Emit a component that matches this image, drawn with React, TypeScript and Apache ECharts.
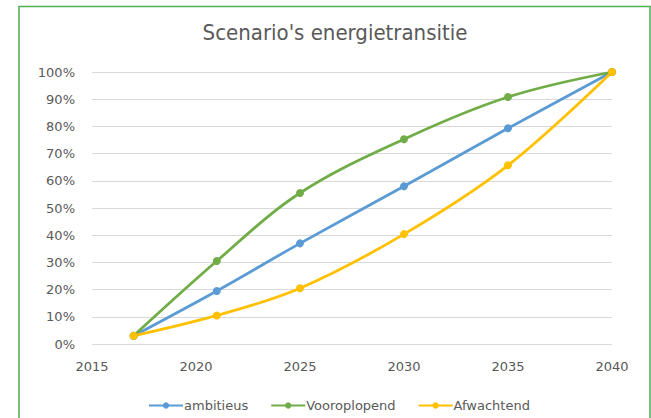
import React, { useEffect, useRef } from "react";
import * as echarts from "echarts";

const years = [2017, 2021, 2025, 2030, 2035, 2040];
const ambitieus = [3, 19.5, 37, 58, 79.3, 100];
const vooroplopend = [3, 30.5, 55.5, 75.3, 90.8, 100];
const afwachtend = [3, 10.5, 20.5, 40.4, 65.7, 100];
const seriesNames = ["ambitieus", "Vooroplopend", "Afwachtend"];
const colors = ["#5B9BD5", "#70AD47", "#FFC000"];

export default function App() {
  const ref = useRef<HTMLDivElement>(null);
  useEffect(() => {
    const chart = echarts.init(ref.current!, undefined, { renderer: "svg" });
    const mk = (name: string, vals: number[], color: string) => ({
      name,
      type: "line",
      smooth: 0.35,
      data: years.map((y, i) => [y, vals[i]]),
      symbol: "circle",
      symbolSize: 8,
      lineStyle: { width: 2.8, color },
      itemStyle: { color },
    });
    const labelFont = { color: "#595959", fontSize: 13, fontFamily: "DejaVu Sans" };
    chart.setOption({
      animation: false,
      backgroundColor: "#fff",
      title: {
        text: "Scenario's energietransitie",
        left: 330,
        textAlign: "center",
        top: 16,
        textStyle: { fontFamily: "DejaVu Sans Condensed", fontWeight: "normal", fontSize: 22, color: "#595959" },
      },
      graphic: [
        {
          type: "rect",
          shape: { x: 19, y: 6.5, width: 631, height: 430 },
          style: { fill: "none", stroke: "#4CAF50", lineWidth: 1.5 },
        },
      ],
      grid: { left: 92, right: 39, top: 72, bottom: 74 },
      xAxis: {
        type: "value",
        min: 2015,
        max: 2040,
        interval: 5,
        axisLine: { show: false },
        axisTick: { show: false },
        splitLine: { show: false },
        axisLabel: { ...labelFont, margin: 16, formatter: (v: number) => String(v) },
      },
      yAxis: {
        type: "value",
        min: 0,
        max: 100,
        interval: 10,
        axisLine: { show: false },
        axisTick: { show: false },
        splitLine: { lineStyle: { color: "#D9D9D9", width: 1 } },
        axisLabel: { ...labelFont, margin: 17, formatter: "{value}%" },
      },
      legend: {
        bottom: 1,
        left: 143,
        itemWidth: 34,
        itemHeight: 8,
        itemGap: 22,
        textStyle: { ...labelFont, padding: [0, 0, 0, -4] },
        data: seriesNames,
      },
      series: [
        mk(seriesNames[0], ambitieus, colors[0]),
        mk(seriesNames[1], vooroplopend, colors[1]),
        mk(seriesNames[2], afwachtend, colors[2]),
      ],
    });
    return () => chart.dispose();
  }, []);
  return <div ref={ref} style={{ position: "absolute", left: 0, top: 0, width: 651, height: 418 }} />;
}
